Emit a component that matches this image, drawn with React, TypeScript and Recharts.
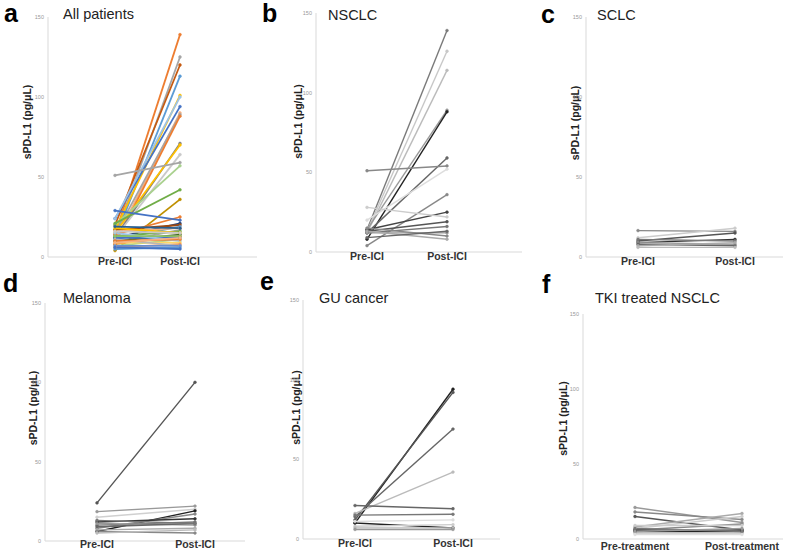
import { LineChart, Line, XAxis, YAxis } from 'recharts'

// x categories
const iciCats = ['Pre-ICI', 'Post-ICI']
const tkiCats = ['Pre-treatment', 'Post-treatment']
const yTicks = [0, 50, 100, 150]

// a: all patients (pre -> post per patient)
const allPre = [14, 13, 20, 12, 17, 24, 10, 14, 8, 24, 12, 15, 12, 51, 20, 21, 4, 14, 29, 12, 17, 11, 16, 9, 13, 18, 10, 8, 12, 7, 15, 9, 6, 11, 5, 13, 10, 7, 16, 6, 19, 9]
const allPost = [139, 125, 120, 113, 101, 94, 90, 89, 88, 100, 71, 70, 64, 59, 57, 42, 36, 25, 23, 21, 20, 19, 18, 17, 16, 15, 14, 13, 12, 11, 10, 9, 8, 7, 6, 13, 11, 7, 15, 5, 18, 12]
const allColors = ['#ED7D31', '#A5A5A5', '#C55A11', '#5B9BD5', '#FFC000', '#4472C4', '#F4B183', '#A5A5A5', '#ED7D31', '#9DC3E6', '#7F7F7F', '#FFC000', '#C9C9C9', '#A5A5A5', '#A9D18E', '#70AD47', '#BF9000', '#ED7D31', '#4472C4', '#264478', '#9E480E', '#5B9BD5', '#F4B183', '#A5A5A5', '#70AD47', '#FFC000', '#43682B', '#ED7D31', '#4472C4', '#A9D18E', '#9DC3E6', '#FFD966', '#F1975A', '#B7B7B7', '#5B9BD5', '#8CC168', '#ED7D31', '#698ED0', '#C9C9C9', '#4472C4', '#255E91', '#F4B183']

// b: NSCLC
const nsclcPre = [14, 13, 12, 14, 8, 12, 51, 20, 4, 14, 28, 13, 12, 12, 15, 13, 9]
const nsclcPost = [139, 126, 114, 89, 88, 59, 54, 52, 36, 25, 22, 19, 16, 12, 10, 8, 13]
const nsclcColors = ['#7a7a7a', '#c8c8c8', '#bbbbbb', '#9a9a9a', '#222222', '#666666', '#888888', '#dddddd', '#888888', '#444444', '#cccccc', '#555555', '#777777', '#999999', '#888888', '#aaaaaa', '#666666']

// c: SCLC
const sclcPre = [16.5, 12, 10, 9, 11, 9, 8, 7, 6]
const sclcPost = [16, 18, 15, 11, 10, 8, 7, 9, 6]
const sclcColors = ['#888888', '#cccccc', '#555555', '#333333', '#777777', '#999999', '#666666', '#aaaaaa', '#bbbbbb']

// d: melanoma
const melPre = [24, 18.5, 15, 6, 8, 12, 10, 11, 9, 7, 6, 5, 13]
const melPost = [100, 22, 20, 19, 17, 14, 12, 10, 11, 8, 5, 7, 11]
const melColors = ['#555555', '#999999', '#d0d0d0', '#222222', '#888888', '#333333', '#777777', '#999999', '#666666', '#aaaaaa', '#888888', '#bbbbbb', '#777777']

// e: GU cancer
const guPre = [10, 12, 14, 16, 21, 15, 10, 8, 7, 6, 11]
const guPost = [94, 92, 69, 42, 19, 15.5, 7, 9, 7, 6, 12]
const guColors = ['#222222', '#555555', '#666666', '#bbbbbb', '#666666', '#777777', '#222222', '#cccccc', '#bbbbbb', '#999999', '#dddddd']

// f: TKI treated NSCLC
const tkiPre = [21, 18, 15, 8, 7, 6, 9, 5, 6, 4, 7, 5, 3]
const tkiPost = [11, 13, 6, 17, 15, 10, 9, 5, 6, 4, 5, 7, 3]
const tkiColors = ['#999999', '#888888', '#555555', '#aaaaaa', '#cccccc', '#888888', '#cccccc', '#222222', '#444444', '#bbbbbb', '#777777', '#999999', '#dddddd']

type Panel = {
  letter: string; title: string; cats: string[]; pre: number[]; post: number[]; colors: string[]
  axisX: number; xEnd: number; top: number; bottom: number; pre_x: number; post_x: number
  letterX: number; letterY: number; titleX: number; titleY: number
  labelX: number; labelDy: number; xTickGap: number; width: number
}

const panels: Panel[] = [
  { letter: 'a', title: 'All patients', cats: iciCats, pre: allPre, post: allPost, colors: allColors,
    axisX: 48, xEnd: 257, top: 17, bottom: 257, pre_x: 115, post_x: 180,
    letterX: 4, letterY: 22, titleX: 63, titleY: 19, labelX: 27, labelDy: -15, xTickGap: 1, width: 1.8 },
  { letter: 'b', title: 'NSCLC', cats: iciCats, pre: nsclcPre, post: nsclcPost, colors: nsclcColors,
    axisX: 316, xEnd: 522, top: 13, bottom: 252, pre_x: 367, post_x: 447,
    letterX: 262, letterY: 22, titleX: 328, titleY: 20, labelX: 298, labelDy: -11, xTickGap: 1, width: 1.4 },
  { letter: 'c', title: 'SCLC', cats: iciCats, pre: sclcPre, post: sclcPost, colors: sclcColors,
    axisX: 586, xEnd: 783, top: 17, bottom: 257, pre_x: 638, post_x: 735,
    letterX: 541, letterY: 23, titleX: 597, titleY: 20, labelX: 575, labelDy: -14, xTickGap: 1, width: 1.4 },
  { letter: 'd', title: 'Melanoma', cats: iciCats, pre: melPre, post: melPost, colors: melColors,
    axisX: 45, xEnd: 245, top: 303, bottom: 541, pre_x: 97, post_x: 195,
    letterX: 3, letterY: 292, titleX: 63, titleY: 303, labelX: 33, labelDy: -14, xTickGap: 0, width: 1.4 },
  { letter: 'e', title: 'GU cancer', cats: iciCats, pre: guPre, post: guPost, colors: guColors,
    axisX: 303, xEnd: 500, top: 300, bottom: 539, pre_x: 355, post_x: 453,
    letterX: 260, letterY: 290, titleX: 319, titleY: 303, labelX: 296, labelDy: -12, xTickGap: 1, width: 1.4 },
  { letter: 'f', title: 'TKI treated NSCLC', cats: tkiCats, pre: tkiPre, post: tkiPost, colors: tkiColors,
    axisX: 583, xEnd: 783, top: 314, bottom: 539, pre_x: 635, post_x: 742,
    letterX: 542, letterY: 293, titleX: 595, titleY: 303, labelX: 563, labelDy: -8, xTickGap: 4, width: 1.4 },
]

const AXIS_W = 40
const PAD_T = 6
const XAXIS_H = 24

function rows(cats: string[], pre: number[], post: number[]) {
  return [
    { cat: cats[0], ...Object.fromEntries(pre.map((v, i) => ['p' + i, v])) },
    { cat: cats[1], ...Object.fromEntries(post.map((v, i) => ['p' + i, v])) },
  ]
}

function PanelChart({ p }: { p: Panel }) {
  const left = p.axisX - AXIS_W
  const w = p.xEnd - p.axisX + AXIS_W + 4
  const h = p.bottom - p.top + PAD_T + XAXIS_H
  const data = rows(p.cats, p.pre, p.post)
  return (
    <div style={{ position: 'absolute', left, top: p.top - PAD_T }}>
      <LineChart width={w} height={h} data={data} margin={{ top: PAD_T, right: 4, bottom: 0, left: 0 }}>
        <XAxis dataKey="cat" height={XAXIS_H} stroke="#d9d9d9" tickLine={false} tickSize={0} tickMargin={p.xTickGap}
          padding={{ left: p.pre_x - p.axisX, right: p.xEnd - p.post_x }}
          tick={{ fill: '#333', fontSize: 10.5, fontWeight: 'bold', fontFamily: 'Liberation Sans, Arial, sans-serif' }} />
        <YAxis width={AXIS_W} domain={[0, 150]} ticks={yTicks} stroke="#d9d9d9" tickLine={false} tickSize={3} tickMargin={1}
          tick={{ fill: '#999', fontSize: 5.5, fontFamily: 'Liberation Sans, Arial, sans-serif' }}
          label={(props: any) => {
            const vb = props.viewBox || { x: 0, y: PAD_T, width: AXIS_W, height: h - PAD_T - XAXIS_H }
            const cx = vb.x + (p.labelX - left)
            const cy = vb.y + vb.height / 2 + p.labelDy
            return (
              <text x={cx} y={cy} transform={`rotate(-90, ${cx}, ${cy})`} textAnchor="middle" dominantBaseline="central"
                fill="#222" fontSize={10.5} fontWeight="bold" fontFamily="Liberation Sans, Arial, sans-serif">
                sPD-L1 (pg/μL)
              </text>
            )
          }} />
        {p.pre.map((_, i) => (
          <Line key={i} dataKey={'p' + i} stroke={p.colors[i]} strokeWidth={p.width} isAnimationActive={false}
            dot={{ r: 1.4, fill: p.colors[i], stroke: p.colors[i], strokeWidth: 0.5 }} />
        ))}
      </LineChart>
    </div>
  )
}

export default function App() {
  return (
    <div style={{ position: 'absolute', left: 0, top: 0, width: 793, height: 556, background: '#fff', overflow: 'hidden' }}>
      {panels.map(p => <PanelChart key={p.letter} p={p} />)}
      <svg width={793} height={556} style={{ position: 'absolute', left: 0, top: 0, pointerEvents: 'none' }}>
        {panels.map(p => (
          <g key={p.letter} fontFamily="Liberation Sans, Arial, sans-serif">
            <text x={p.letterX} y={p.letterY} fontSize={25} fontWeight="bold" fill="#000">{p.letter}</text>
            <text x={p.titleX} y={p.titleY} fontSize={14.5} fill="#222">{p.title}</text>
          </g>
        ))}
      </svg>
    </div>
  )
}
